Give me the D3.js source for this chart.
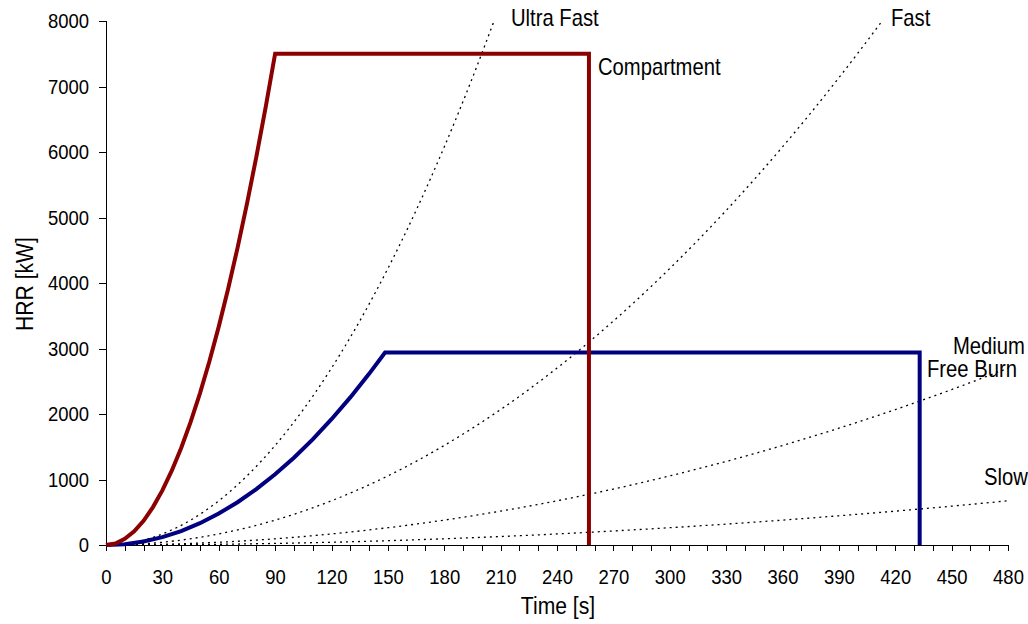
<!DOCTYPE html>
<html>
<head>
<meta charset="utf-8">
<script src="https://cdn.jsdelivr.net/npm/d3@7"></script>
<style>
    body { margin: 0; background: #fff; }
    text { font-family: "Liberation Sans", Arial, sans-serif; fill: #000; }
    .axis path, .axis line { stroke: #000; stroke-width: 1; shape-rendering: crispEdges; }
    .axis text { font-size: 21px; }
    .dotted { fill: none; stroke: #000; stroke-width: 1.3; stroke-dasharray: 2,4; }
</style>
</head>
<body>
<script>
// Tick values
const xTickValues = [0, 30, 60, 90, 120, 150, 180, 210, 240, 270, 300, 330, 360, 390, 420, 450, 480];
const xMinorTicks = [0, 10, 20, 30, 40, 50, 60, 70, 80, 90, 100, 110, 120, 130, 140, 150, 160, 170, 180, 190, 200,
    210, 220, 230, 240, 250, 260, 270, 280, 290, 300, 310, 320, 330, 340, 350, 360, 370, 380, 390, 400, 410, 420,
    430, 440, 450, 460, 470, 480];
const yTickValues = [0, 1000, 2000, 3000, 4000, 5000, 6000, 7000, 8000];

// Compartment fire (red)
const compTime = [0, 5, 10, 15, 20, 25, 30, 35, 40, 45, 50, 55, 60, 65, 70, 75, 80, 85, 90, 257, 257];
const compHRR = [0, 23, 93, 208, 370, 579, 833, 1134, 1482, 1875, 2315, 2801, 3334, 3912, 4537, 5209, 5926, 6690, 7500, 7500, 0];

// Free burn fire (blue)
const freeTime = [0, 10, 20, 30, 40, 50, 60, 70, 80, 90, 100, 110, 120, 130, 140, 148.5, 433, 433];
const freeHRR = [0, 13, 53, 120, 213, 333, 480, 653, 853, 1080, 1333, 1613, 1920, 2253, 2613, 2940, 2940, 0];

// t-squared reference curves (dotted)
const ultraTime = [0, 15, 30, 45, 60, 75, 90, 105, 120, 135, 150, 165, 180, 195, 206.5];
const ultraHRR = [0, 42, 169, 380, 675, 1055, 1520, 2068, 2701, 3419, 4221, 5107, 6078, 7133, 8000];
const fastTime = [0, 30, 60, 90, 120, 150, 180, 210, 240, 270, 300, 330, 360, 390, 413];
const fastHRR = [0, 42, 169, 380, 675, 1055, 1520, 2068, 2701, 3419, 4221, 5107, 6078, 7133, 8000];
const mediumTime = [0, 30, 60, 90, 120, 150, 180, 210, 240, 270, 300, 330, 360, 390, 420, 450, 480];
const mediumHRR = [0, 11, 42, 95, 169, 264, 380, 517, 675, 854, 1055, 1276, 1519, 1783, 2067, 2373, 2700];
const slowTime = [0, 30, 60, 90, 120, 150, 180, 210, 240, 270, 300, 330, 360, 390, 420, 450, 480];
const slowHRR = [0, 3, 11, 24, 42, 66, 95, 129, 169, 214, 264, 319, 380, 446, 517, 593, 675];

const width = 1028, height = 624;
const margin = {top: 21, right: 20, bottom: 79, left: 106};
const innerW = 902, innerH = 524;
const squeeze = "scale(0.88,1)";   // the reference uses a narrow face

const svg = d3.select("body").append("svg")
    .attr("width", width)
    .attr("height", height);

const g = svg.append("g")
    .attr("transform", "translate(" + margin.left + "," + margin.top + ")");

const x = d3.scaleLinear().domain([0, 480]).range([0, innerW]);
const y = d3.scaleLinear().domain([0, 8000]).range([innerH, 0]);

let zip = (ts, vs) => ts.map((t, i) => ({ t: t, v: vs[i] }));

// axes
g.append("g")
    .attr("class", "axis")
    .attr("transform", "translate(0," + innerH + ")")
    .call(d3.axisBottom(x).tickValues(xMinorTicks).tickSize(6).tickFormat(""))
    .call(a => a.select(".domain").attr("d", "M0,0H" + innerW));

g.append("g")
    .attr("class", "axis")
    .attr("transform", "translate(0," + innerH + ")")
    .call(d3.axisBottom(x).tickValues(xTickValues).tickSize(0).tickPadding(24).tickFormat(d3.format("d")))
    .call(a => a.select(".domain").remove())
    .call(a => a.selectAll("text").attr("transform", squeeze));

g.append("g")
    .attr("class", "axis")
    .call(d3.axisLeft(y).tickValues(yTickValues).tickSize(7).tickFormat(d3.format("d")))
    .call(a => a.select(".domain").attr("d", "M0," + innerH + "V0"))
    .call(a => a.selectAll("text").attr("x", -17 / 0.88).attr("transform", squeeze));

// axis titles
svg.append("text")
    .attr("transform", "translate(558,614) " + squeeze)
    .style("text-anchor", "middle")
    .style("font-size", "24px")
    .text("Time [s]");

svg.append("text")
    .attr("transform", "translate(33,284) rotate(-90) " + squeeze)
    .style("text-anchor", "middle")
    .style("font-size", "24px")
    .text("HRR [kW]");

// dotted t-squared curves
const curveLine = d3.line()
    .x(d => x(d.t))
    .y(d => y(d.v))
    .curve(d3.curveMonotoneX);

[[ultraTime, ultraHRR], [fastTime, fastHRR], [mediumTime, mediumHRR], [slowTime, slowHRR]].forEach(function (s) {
    g.append("path")
        .attr("class", "dotted")
        .attr("d", curveLine(zip(s[0], s[1])));
});

// design fires
const fireLine = d3.line()
    .x(d => x(d.t))
    .y(d => y(d.v));

g.append("path")
    .attr("d", fireLine(zip(freeTime, freeHRR)))
    .attr("fill", "none")
    .attr("stroke", "#000080")
    .attr("stroke-width", 4);

g.append("path")
    .attr("d", fireLine(zip(compTime, compHRR)))
    .attr("fill", "none")
    .attr("stroke", "#8b0000")
    .attr("stroke-width", 4);

// series labels
const labels = [
    { text: "Ultra Fast", x: 511, y: 26 },
    { text: "Fast", x: 891, y: 26 },
    { text: "Compartment", x: 598, y: 75 },
    { text: "Medium", x: 953, y: 354 },
    { text: "Free Burn", x: 927, y: 377 },
    { text: "Slow", x: 984, y: 485 }
];
svg.selectAll(".seriesLabel")
    .data(labels)
    .enter()
    .append("text")
    .attr("class", "seriesLabel")
    .attr("transform", d => "translate(" + d.x + "," + d.y + ") " + squeeze)
    .style("font-size", "23px")
    .text(d => d.text);
</script>
</body>
</html>
